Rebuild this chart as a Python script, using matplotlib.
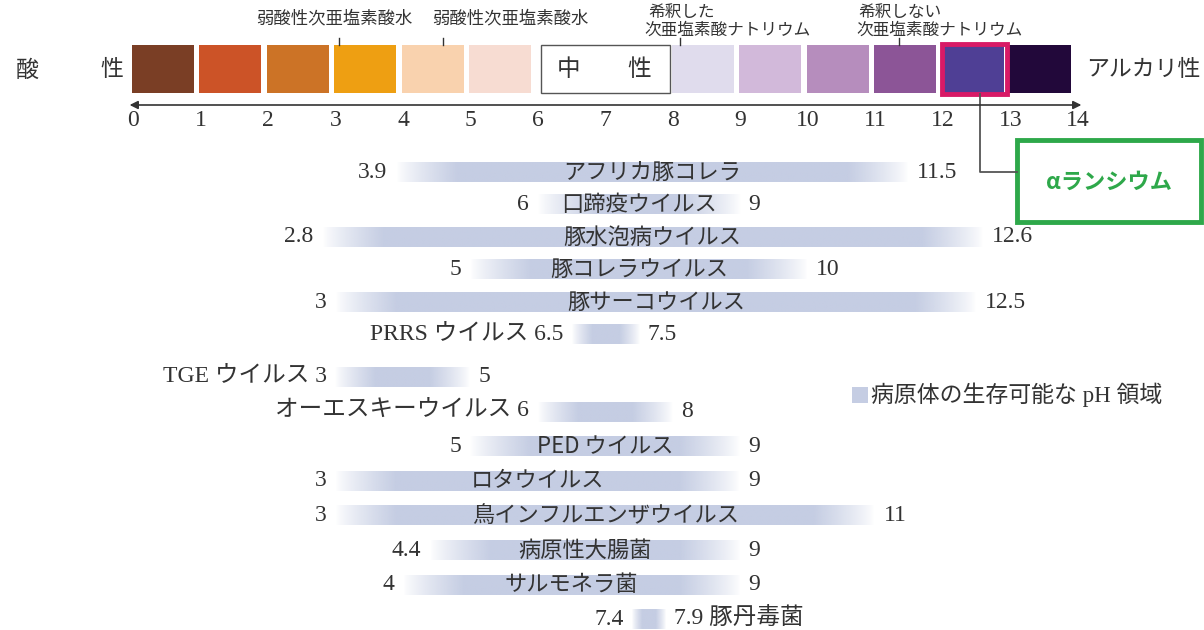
import numpy as np
import matplotlib
matplotlib.use('Agg')
from matplotlib import pyplot as plt
from matplotlib.patches import Rectangle

plt.rcParams['font.family'] = ['Noto Sans CJK JP', 'DejaVu Sans']

# pH scale colours (0..13), 6-7 is the neutral box
ph_colors = ['#7a3e25', '#cc5327', '#cc7326', '#ee9f12', '#f9d2ae', '#f7dcd2',
             None, None, '#e0dced', '#d2b9da', '#b68dbd', '#8c5597', '#4f3f95', '#22083a']

names = ['アフリカ豚コレラ', '口蹄疫ウイルス', '豚水泡病ウイルス', '豚コレラウイルス',
         '豚サーコウイルス', 'PRRS ウイルス', 'TGE ウイルス', 'オーエスキーウイルス',
         'PED ウイルス', 'ロタウイルス', '鳥インフルエンザウイルス', '病原性大腸菌',
         'サルモネラ菌', '豚丹毒菌']
low = [3.9, 6, 2.8, 5, 3, 6.5, 3, 6, 5, 3, 3, 4.4, 4, 7.4]
high = [11.5, 9, 12.6, 10, 12.5, 7.5, 5, 8, 9, 9, 11, 9, 9, 7.9]
low_txt = ['3.9', '6', '2.8', '5', '3', '6.5', '3', '6', '5', '3', '3', '4.4', '4', '7.4']
high_txt = ['11.5', '9', '12.6', '10', '12.5', '7.5', '5', '8', '9', '9', '11', '9', '9', '7.9']
name_pos = ['in', 'in', 'in', 'in', 'in', 'left', 'left', 'left', 'in', 'in', 'in', 'in', 'in', 'right']

bar_rgb = np.array([197, 205, 227]) / 255.0
txt_c = '#333333'

fig = plt.figure(figsize=(12.04, 6.30), dpi=100)
ax = fig.add_axes([0, 0, 1, 1])
scale = 67.5  # pixels per pH unit
x0 = 133
ax.set_xlim(-x0 / scale, (1204 - x0) / scale)
ax.set_ylim(630, 0)
ax.axis('off')


def px(x):
    return (x - x0) / scale


serif = ['Liberation Serif', 'Noto Sans CJK JP']

# colour boxes
for i, c in enumerate(ph_colors):
    if c is None:
        continue
    ax.add_patch(Rectangle((i - 0.02, 45), 0.92, 48, facecolor=c, edgecolor='none'))
ax.add_patch(Rectangle((6.05, 45), 1.9, 48, facecolor='white', edgecolor='#555555', lw=1))
ax.text(6.45, 70, '中', fontsize=17, ha='center', va='center', color=txt_c)
ax.text(7.5, 70, '性', fontsize=17, ha='center', va='center', color=txt_c)
ax.add_patch(Rectangle((11.98, 44), 0.97, 50, facecolor='none', edgecolor='#d81a66', lw=3.5))

ax.text(px(16), 70, '酸', fontsize=16.5, ha='left', va='center', color=txt_c)
ax.text(px(100), 70, '性', fontsize=16.5, ha='left', va='center', color=txt_c)
ax.text(px(1086), 70, 'アルカリ性', fontsize=16.5, ha='left', va='center', color=txt_c)

# top annotations
ax.text(px(334), 18, '弱酸性次亜塩素酸水', fontsize=12.5, ha='center', va='center', color=txt_c)
ax.plot([3.05, 3.05], [38, 45], color=txt_c, lw=1)
ax.text(px(510), 18, '弱酸性次亜塩素酸水', fontsize=12.5, ha='center', va='center', color=txt_c)
ax.plot([4.6, 4.6], [38, 45], color=txt_c, lw=1)
ax.text(px(648), 13, '希釈した', fontsize=12, ha='left', va='center', color=txt_c)
ax.text(px(644), 30, '次亜塩素酸ナトリウム', fontsize=12, ha='left', va='center', color=txt_c)
ax.plot([8.1, 8.1], [38, 45], color=txt_c, lw=1)
ax.text(px(858), 13, '希釈しない', fontsize=12, ha='left', va='center', color=txt_c)
ax.text(px(856), 30, '次亜塩素酸ナトリウム', fontsize=12, ha='left', va='center', color=txt_c)
ax.plot([11.35, 11.35], [38, 45], color=txt_c, lw=1)

# axis arrow and ticks
ax.annotate('', xy=(-0.05, 105), xytext=(14.05, 105),
            arrowprops=dict(arrowstyle='<|-|>', color=txt_c, lw=1.2, mutation_scale=12,
                            shrinkA=0, shrinkB=0))
for i in range(15):
    ax.text(i, 121, str(i), fontsize=17, ha='center', va='center', family=serif, color=txt_c)

# connector to αランシウム
ax.plot([12.55, 12.55, 13.1], [94, 172, 172], color='#555555', lw=1.3)
ax.add_patch(Rectangle((13.1, 140), 2.72, 82, facecolor='white', edgecolor='#2ea84a', lw=3.5))
ax.text(14.46, 182, 'αランシウム', fontsize=16, fontweight='bold', ha='center', va='center',
        color='#2ea84a')

# bars
row_y = []
for i in range(len(names)):
    if i < 6:
        row_y.append(172 + 32.5 * i)
    else:
        row_y.append(377 + 34.6 * (i - 6))

h = 20
for i in range(len(names)):
    lo, hi, y = low[i], high[i], row_y[i]
    xs = np.linspace(lo, hi, 300)
    f = min(0.9, 0.3 * (hi - lo))
    alpha = np.clip(np.minimum((xs - lo) / f, (hi - xs) / f), 0, 1) ** 0.8
    img = np.zeros((1, len(xs), 4))
    img[0, :, :3] = bar_rgb
    img[0, :, 3] = alpha
    ax.imshow(img, extent=[lo, hi, y + h / 2, y - h / 2], aspect='auto', interpolation='bilinear')

    lt = low_txt[i]
    ht = high_txt[i]
    if name_pos[i] == 'left':
        lt = names[i] + ' ' + lt
    if name_pos[i] == 'right':
        ht = ht + ' ' + names[i]
    ax.text(lo - 0.13, y, lt, fontsize=17, ha='right', va='center', family=serif, color=txt_c)
    ax.text(hi + 0.12, y, ht, fontsize=17, ha='left', va='center', family=serif, color=txt_c)
    if name_pos[i] == 'in':
        ax.text((lo + hi) / 2, y, names[i], fontsize=16, ha='center', va='center', color=txt_c)

# legend
ax.add_patch(Rectangle((px(852), 387), 16 / scale, 16, facecolor=bar_rgb, edgecolor='none'))
ax.text(px(871), 395, '病原体の生存可能な pH 領域', fontsize=16.5, ha='left', va='center',
        family=serif, color=txt_c)

fig.savefig('out.png', dpi=100)
